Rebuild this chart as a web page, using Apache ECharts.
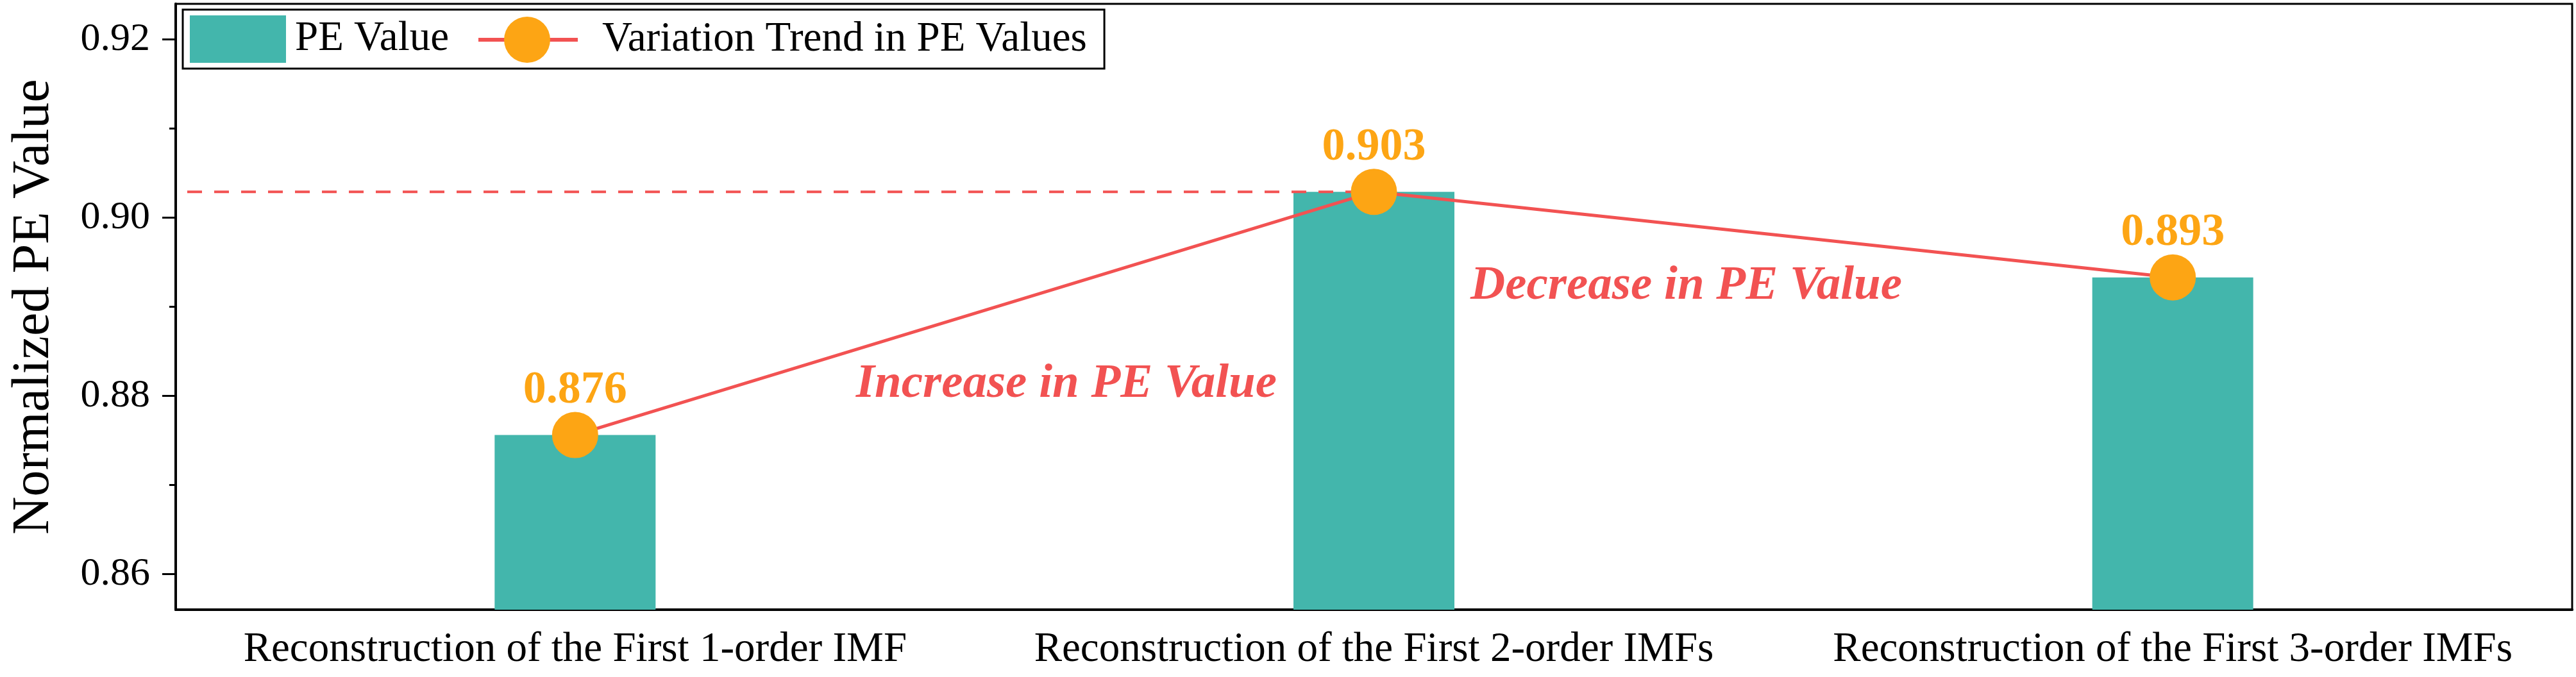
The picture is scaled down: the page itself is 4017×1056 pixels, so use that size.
<!DOCTYPE html>
<html><head><meta charset="utf-8">
<script src="https://cdn.jsdelivr.net/npm/echarts@6/dist/echarts.min.js"></script>
<style>html,body{margin:0;padding:0;background:#fff}#c{width:4017px;height:1056px}</style>
</head><body><div id="c"></div>
<script>
const categories = ['Reconstruction of the First 1-order IMF', 'Reconstruction of the First 2-order IMFs', 'Reconstruction of the First 3-order IMFs'];
const peValues = [0.8756, 0.9029, 0.8933];
const valueLabels = ['0.876', '0.903', '0.893'];
const yMajorTicks = [0.86, 0.88, 0.90, 0.92];
const yMinorTicks = [0.87, 0.89, 0.91];
const yRange = [0.856, 0.924];
const annotationTexts = ['Increase in PE Value', 'Decrease in PE Value'];
const annotationCatPos = [0.615, 1.391];
const annotationValues = [0.8813, 0.8923];
const refIndex = 1;

const FONT = 'Liberation Serif';
const TEAL = '#43B6AC', ORANGE = '#FDA514', RED = '#F25252';
const chart = echarts.init(document.getElementById('c'), null, {renderer: 'canvas'});
const option = {
  animation: false,
  backgroundColor: '#fff',
  grid: {left: 274, right: 6, top: 6, bottom: 105, show: true, borderColor: '#000', borderWidth: 3, containLabel: false},
  legend: [{
    z: 4,
    left: 285, top: 15, orient: 'horizontal',
    padding: [9, 1022, 9, 11],
    itemWidth: 150, itemHeight: 74,
    borderColor: '#000', borderWidth: 3, backgroundColor: '#fff',
    textStyle: {fontFamily: FONT, fontSize: 65, color: '#000', padding: [0, 0, 0, 9]},
    data: [{name: 'PE Value', icon: 'rect'}]
  }, {
    z: 6,
    left: 786, top: 26, orient: 'horizontal', padding: 0,
    itemWidth: 72, itemHeight: 72,
    textStyle: {fontFamily: FONT, fontSize: 65, color: '#000', padding: [0, 0, 0, 76]},
    data: [{name: 'Variation Trend in PE Values', icon: 'circle'}]
  }],
  xAxis: {
    type: 'category', data: categories, boundaryGap: true,
    axisLine: {lineStyle: {color: '#000', width: 4}},
    axisTick: {alignWithLabel: true, length: 22, lineStyle: {color: '#000', width: 3}},
    axisLabel: {interval: 0, margin: 30, fontFamily: FONT, fontSize: 65, color: '#000'},
    splitLine: {show: false}
  },
  yAxis: [{
    type: 'value', min: yRange[0], max: yRange[1],
    name: 'Normalized PE Value', nameLocation: 'middle', nameGap: 180,
    nameTextStyle: {fontFamily: FONT, fontSize: 82, color: '#000'},
    axisLine: {show: true, lineStyle: {color: '#000', width: 4}},
    axisTick: {show: true, length: 21, lineStyle: {color: '#000', width: 3}, customValues: yMajorTicks},
    axisLabel: {margin: 40, fontFamily: FONT, fontSize: 62, color: '#000', customValues: yMajorTicks,
      formatter: v => v.toFixed(2)},
    splitLine: {show: false}
  }, {
    type: 'value', min: yRange[0], max: yRange[1], position: 'left', offset: 0,
    axisLine: {show: false},
    axisTick: {show: true, length: 10, lineStyle: {color: '#000', width: 3}, customValues: yMinorTicks},
    axisLabel: {show: false, customValues: yMinorTicks},
    splitLine: {show: false}
  }],
  series: [{
    name: 'PE Value', type: 'bar', data: peValues, barWidth: 251, z: 2,
    itemStyle: {color: TEAL}
  }, {
    name: 'Variation Trend in PE Values', type: 'line', data: peValues, z: 5,
    symbol: 'circle', symbolSize: 72,
    itemStyle: {color: ORANGE},
    lineStyle: {color: RED, width: 5},
    label: {show: true, position: 'top', distance: -3, color: ORANGE, fontFamily: FONT, fontWeight: 'bold', fontSize: 72,
      formatter: p => valueLabels[p.dataIndex]}
  }]
};
chart.setOption(option);

const gridRect = chart.getModel().getComponent('grid', 0).coordinateSystem.getRect();
const refPt = chart.convertToPixel({xAxisIndex: 0, yAxisIndex: 0}, [refIndex, peValues[refIndex]]);
function catPosToPixel(pos, val) {
  const i0 = Math.floor(pos), f = pos - i0;
  const a = chart.convertToPixel({xAxisIndex: 0, yAxisIndex: 0}, [i0, val]);
  const b = chart.convertToPixel({xAxisIndex: 0, yAxisIndex: 0}, [i0 + 1, val]);
  return [a[0] + (b[0] - a[0]) * f, a[1]];
}
const graphics = [{
  type: 'line', z: 3, silent: true,
  shape: {x1: gridRect.x + 18, y1: refPt[1], x2: refPt[0], y2: refPt[1]},
  style: {stroke: RED, lineWidth: 4, lineDash: [23, 19]}
}, {
  // legend line swatch behind the circle icon
  type: 'line', z: 5, zlevel: 0, silent: true,
  shape: {x1: 746, y1: 62, x2: 901, y2: 62},
  style: {stroke: RED, lineWidth: 6}
}];
annotationTexts.forEach((t, i) => {
  const p = catPosToPixel(annotationCatPos[i], annotationValues[i]);
  graphics.push({
    type: 'text', z: 6, x: p[0], y: p[1], silent: true,
    style: {text: t, fill: RED, fontFamily: FONT, fontSize: 75, fontWeight: 'bold', fontStyle: 'italic',
      align: 'center', verticalAlign: 'middle'}
  });
});
chart.setOption({graphic: {elements: graphics}});
</script></body></html>
